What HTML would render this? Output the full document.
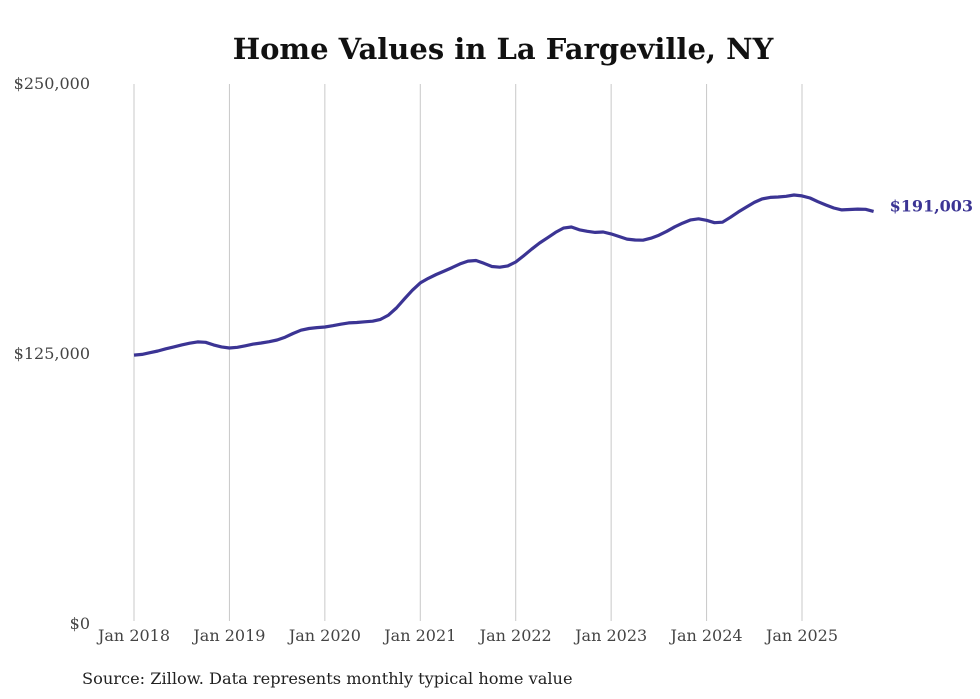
<!DOCTYPE html>
<html><head><meta charset="utf-8"><style>
body{margin:0;background:#fff;}
svg{display:block;font-family:"DejaVu Serif","Liberation Serif",serif;}
</style></head><body>
<svg id="chart" width="980" height="699">
<text x="503" y="59" text-anchor="middle" font-size="29" font-weight="bold" fill="#111">Home Values in La Fargeville, NY</text>
<g id="grid"></g>
<g id="yaxis"></g>
<g id="xaxis"></g>
<path id="line" fill="none" stroke="#3b3494" stroke-width="3.2" stroke-linejoin="round"/>
<text id="endlabel" font-size="16" font-weight="bold" fill="#3b3494"></text>
<text x="82" y="684" font-size="16.2" fill="#222">Source: Zillow. Data represents monthly typical home value</text>
</svg>
<script>
const yTicks=[0,125000,250000];
const yTickLabels=["$0","$125,000","$250,000"];
const xTickYears=[2018,2019,2020,2021,2022,2023,2024,2025];
const startYear=2018;
const values=[124.5,124.8,125.6,126.4,127.4,128.3,129.2,130,130.6,130.4,129.2,128.3,
127.8,128.1,128.8,129.6,130.1,130.7,131.5,132.8,134.5,136,136.8,137.2,
137.5,138.1,138.8,139.4,139.6,139.9,140.2,141,143,146.3,150.5,154.5,
157.9,160,161.8,163.4,165,166.7,168,168.3,167,165.5,165.2,165.8,
167.6,170.5,173.5,176.4,178.8,181.3,183.3,183.8,182.5,181.8,181.3,181.5,
180.6,179.4,178.2,177.8,177.7,178.6,180,181.8,183.9,185.6,187.1,187.6,
186.9,185.8,186,188.3,190.8,193,195.2,196.8,197.5,197.7,198,198.6,
198.2,197.2,195.5,194,192.6,191.7,191.9,192.1,192,191.003];
const lastLabel="$191,003";
const NS="http://www.w3.org/2000/svg";
const y=v=>624-v/250000*540;
const x=m=>134+m*(668/84);
const grid=document.getElementById('grid'),ya=document.getElementById('yaxis'),xa=document.getElementById('xaxis');
yTicks.forEach((t,i)=>{
 const tx=document.createElementNS(NS,'text');
 
 
 tx.setAttribute('x',90);tx.setAttribute('y',y(t)+5);tx.setAttribute('text-anchor','end');
 tx.setAttribute('font-size','16');tx.setAttribute('fill','#444');tx.textContent=yTickLabels[i];ya.appendChild(tx);
});
xTickYears.forEach(yr=>{
 const px=x((yr-startYear)*12);
 const l=document.createElementNS(NS,'line');
 
 
 l.setAttribute('x1',px);l.setAttribute('x2',px);l.setAttribute('y1',84);l.setAttribute('y2',621);
 l.setAttribute('stroke','#c8c8c8');l.setAttribute('stroke-width','1');grid.appendChild(l);
 const tx=document.createElementNS(NS,'text');
 
 
 tx.setAttribute('x',px);tx.setAttribute('y',641);tx.setAttribute('text-anchor','middle');
 tx.setAttribute('font-size','16');tx.setAttribute('fill','#444');tx.textContent='Jan '+yr;xa.appendChild(tx);
});
let d='';
values.forEach((v,i)=>{d+=(i?'L':'M')+x(i).toFixed(1)+','+y(v*1000).toFixed(1);});
document.getElementById('line').setAttribute('d',d);
const el=document.getElementById('endlabel');
el.setAttribute('x',x(values.length-1)+16);
el.setAttribute('y',y(values[values.length-1]*1000)+0);
el.textContent=lastLabel;
</script>
</body></html>
